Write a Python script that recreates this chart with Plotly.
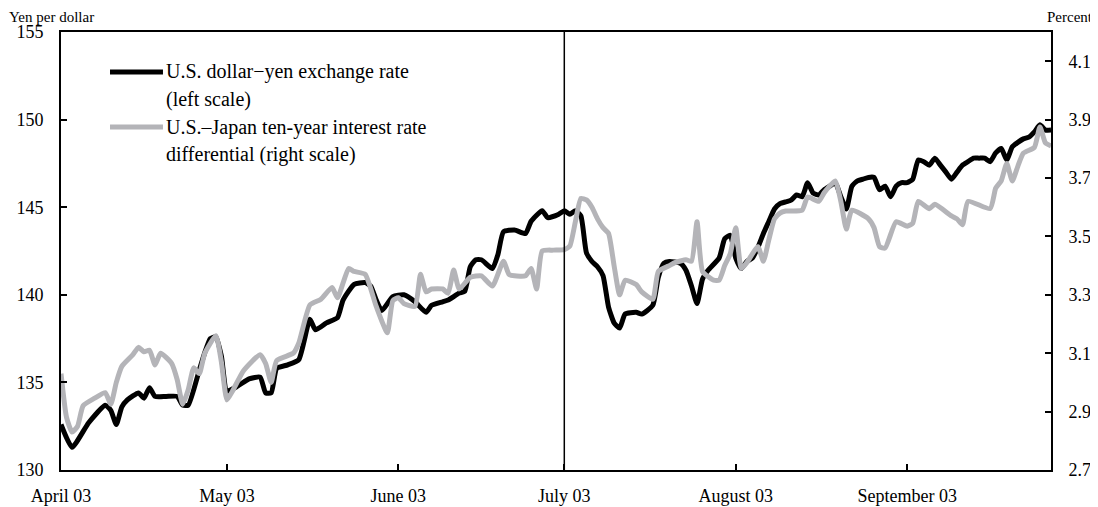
import plotly.graph_objects as go

# U.S. dollar-yen exchange rate (left scale, yen per dollar)
fx_dates = [
    "2023-04-03", "2023-04-05", "2023-04-08", "2023-04-11", "2023-04-12", "2023-04-13", "2023-04-14",
    "2023-04-15", "2023-04-17", "2023-04-18", "2023-04-19", "2023-04-20", "2023-04-22", "2023-04-24",
    "2023-04-25", "2023-04-26", "2023-04-28", "2023-04-29", "2023-04-30", "2023-05-01", "2023-05-02",
    "2023-05-03", "2023-05-05", "2023-05-07", "2023-05-09", "2023-05-10", "2023-05-11", "2023-05-12",
    "2023-05-14", "2023-05-16", "2023-05-18", "2023-05-19", "2023-05-21", "2023-05-23", "2023-05-24",
    "2023-05-26", "2023-05-28", "2023-05-29", "2023-05-30", "2023-05-31", "2023-06-02", "2023-06-04",
    "2023-06-06", "2023-06-08", "2023-06-09", "2023-06-11", "2023-06-12", "2023-06-14", "2023-06-15",
    "2023-06-16", "2023-06-17", "2023-06-18", "2023-06-20", "2023-06-21", "2023-06-22", "2023-06-24",
    "2023-06-26", "2023-06-27", "2023-06-29", "2023-06-30", "2023-07-02", "2023-07-03", "2023-07-04",
    "2023-07-05", "2023-07-06", "2023-07-07", "2023-07-08", "2023-07-09", "2023-07-10", "2023-07-11",
    "2023-07-12", "2023-07-13", "2023-07-14", "2023-07-16", "2023-07-17", "2023-07-19", "2023-07-20",
    "2023-07-21", "2023-07-22", "2023-07-24", "2023-07-25", "2023-07-26", "2023-07-27", "2023-07-28",
    "2023-07-29", "2023-07-31", "2023-08-01", "2023-08-02", "2023-08-03", "2023-08-04", "2023-08-05",
    "2023-08-06", "2023-08-07", "2023-08-08", "2023-08-09", "2023-08-10", "2023-08-11", "2023-08-12",
    "2023-08-13", "2023-08-14", "2023-08-15", "2023-08-16", "2023-08-17", "2023-08-18", "2023-08-19",
    "2023-08-20", "2023-08-21", "2023-08-22", "2023-08-23", "2023-08-24", "2023-08-25", "2023-08-26",
    "2023-08-27", "2023-08-28", "2023-08-29", "2023-08-30", "2023-08-31", "2023-09-01", "2023-09-02",
    "2023-09-03", "2023-09-04", "2023-09-05", "2023-09-06", "2023-09-07", "2023-09-08", "2023-09-09",
    "2023-09-10", "2023-09-11", "2023-09-12", "2023-09-13", "2023-09-14", "2023-09-15", "2023-09-16",
    "2023-09-17", "2023-09-18", "2023-09-19", "2023-09-20", "2023-09-21", "2023-09-22", "2023-09-23",
    "2023-09-24", "2023-09-25", "2023-09-26", "2023-09-27", "2023-09-28", "2023-09-29",
]
fx_values = [
    132.6, 131.3, 132.7, 133.7, 133.4, 132.6, 133.6,
    134.0, 134.4, 134.1, 134.7, 134.2, 134.2, 134.2,
    133.7, 133.7, 135.7, 136.7, 137.5, 137.6, 136.5,
    134.5, 134.8, 135.2, 135.3, 134.4, 134.4, 135.8,
    136.0, 136.3, 138.6, 138.0, 138.4, 138.7, 139.7,
    140.6, 140.7, 140.5, 139.7, 139.1, 139.9, 140.0,
    139.6, 139.0, 139.4, 139.6, 139.7, 140.1, 140.2,
    141.6, 142.0, 142.0, 141.5, 142.3, 143.6, 143.7,
    143.5, 144.2, 144.8, 144.4, 144.6, 144.8, 144.6,
    144.8, 144.5, 142.4, 141.9, 141.6, 141.1, 139.3,
    138.4, 138.1, 138.9, 139.0, 138.9, 139.4, 141.0,
    141.8, 141.9, 141.8, 141.4, 140.5, 139.5, 140.9,
    141.4, 142.1, 143.2, 143.4, 142.1, 141.5, 141.9,
    142.1, 142.7, 143.5, 144.2, 144.9, 145.2, 145.3,
    145.4, 145.7, 145.6, 146.4, 145.8, 145.7, 146.0,
    146.2, 146.4, 145.6, 144.9, 146.2, 146.5, 146.6,
    146.7, 146.7, 146.0, 146.2, 145.6, 146.2, 146.4,
    146.4, 146.6, 147.7, 147.6, 147.4, 147.8, 147.4,
    147.0, 146.6, 147.0, 147.4, 147.6, 147.8, 147.8,
    147.8, 147.6, 148.1, 148.35, 147.7, 148.45, 148.7,
    148.9, 149.0, 149.3, 149.7, 149.4, 149.4,
]

# U.S.-Japan ten-year interest rate differential (right scale, percent)
diff_dates = [
    "2023-04-03", "2023-04-04", "2023-04-05", "2023-04-06", "2023-04-07", "2023-04-09", "2023-04-11",
    "2023-04-12", "2023-04-13", "2023-04-14", "2023-04-16", "2023-04-17", "2023-04-18", "2023-04-19",
    "2023-04-20", "2023-04-21", "2023-04-23", "2023-04-24", "2023-04-25", "2023-04-26", "2023-04-27",
    "2023-04-28", "2023-04-29", "2023-05-01", "2023-05-02", "2023-05-03", "2023-05-04", "2023-05-06",
    "2023-05-09", "2023-05-10", "2023-05-11", "2023-05-12", "2023-05-15", "2023-05-16", "2023-05-18",
    "2023-05-20", "2023-05-22", "2023-05-23", "2023-05-25", "2023-05-26", "2023-05-28", "2023-05-30",
    "2023-06-01", "2023-06-02", "2023-06-03", "2023-06-04", "2023-06-06", "2023-06-07", "2023-06-08",
    "2023-06-09", "2023-06-11", "2023-06-12", "2023-06-13", "2023-06-14", "2023-06-16", "2023-06-18",
    "2023-06-20", "2023-06-22", "2023-06-23", "2023-06-24", "2023-06-26", "2023-06-27", "2023-06-28",
    "2023-06-29", "2023-07-01", "2023-07-03", "2023-07-04", "2023-07-05", "2023-07-06", "2023-07-07",
    "2023-07-08", "2023-07-09", "2023-07-10", "2023-07-11", "2023-07-12", "2023-07-13", "2023-07-14",
    "2023-07-16", "2023-07-17", "2023-07-19", "2023-07-20", "2023-07-22", "2023-07-23", "2023-07-25",
    "2023-07-26", "2023-07-27", "2023-07-28", "2023-07-30", "2023-07-31", "2023-08-01", "2023-08-02",
    "2023-08-03", "2023-08-04", "2023-08-05", "2023-08-07", "2023-08-08", "2023-08-09", "2023-08-10",
    "2023-08-11", "2023-08-12", "2023-08-15", "2023-08-16", "2023-08-18", "2023-08-19", "2023-08-21",
    "2023-08-22", "2023-08-23", "2023-08-24", "2023-08-27", "2023-08-28", "2023-08-29", "2023-08-30",
    "2023-09-01", "2023-09-03", "2023-09-04", "2023-09-05", "2023-09-07", "2023-09-08", "2023-09-11",
    "2023-09-12", "2023-09-13", "2023-09-14", "2023-09-18", "2023-09-19", "2023-09-20", "2023-09-21",
    "2023-09-22", "2023-09-23", "2023-09-24", "2023-09-26", "2023-09-27", "2023-09-28", "2023-09-29",
]
diff_values = [
    3.03, 2.88, 2.83, 2.85, 2.92, 2.945, 2.965,
    2.925, 3.00, 3.055, 3.095, 3.12, 3.105, 3.11,
    3.06, 3.10, 3.065, 3.01, 2.925, 2.975, 3.05,
    3.03, 3.10, 3.16, 3.07, 2.94, 2.97, 3.04,
    3.095, 3.065, 3.00, 3.075, 3.10, 3.135, 3.265,
    3.285, 3.325, 3.29, 3.39, 3.38, 3.37, 3.26,
    3.17, 3.28, 3.29, 3.27, 3.26, 3.37, 3.31,
    3.32, 3.32, 3.305, 3.385, 3.32, 3.36, 3.365,
    3.33, 3.415, 3.37, 3.365, 3.365, 3.39, 3.32,
    3.45, 3.453, 3.455, 3.467, 3.55, 3.63, 3.625,
    3.60, 3.56, 3.53, 3.51, 3.40, 3.30, 3.35,
    3.335, 3.31, 3.285, 3.38, 3.40, 3.41, 3.42,
    3.415, 3.55, 3.38, 3.35, 3.35, 3.40, 3.44,
    3.53, 3.39, 3.41, 3.465, 3.415, 3.49, 3.56,
    3.58, 3.587, 3.59, 3.635, 3.62, 3.65, 3.69,
    3.62, 3.525, 3.59, 3.56, 3.53, 3.465, 3.46,
    3.55, 3.535, 3.545, 3.62, 3.595, 3.61, 3.57,
    3.56, 3.54, 3.62, 3.595, 3.665, 3.69, 3.75,
    3.69, 3.74, 3.785, 3.805, 3.875, 3.82, 3.81,
]

# Axis ticks
x_tick_dates = ["2023-04-03", "2023-05-03", "2023-06-03", "2023-07-03", "2023-08-03", "2023-09-03"]
x_tick_labels = ["April 03", "May 03", "June 03", "July 03", "August 03", "September 03"]
x_range = ["2023-04-03", "2023-09-29"]
event_date = "2023-07-03"

fx_name = ["U.S. dollar\u2212yen exchange rate", "(left scale)"]
diff_name = ["U.S.\u2013Japan ten-year interest rate", "differential (right scale)"]

FONT = "Liberation Serif"
BLACK = "#000000"
GRAY = "#b4b4b8"

fig = go.Figure()
fig.add_trace(go.Scatter(
    x=diff_dates, y=diff_values, yaxis="y2", mode="lines",
    line=dict(color=GRAY, width=5, shape="spline", smoothing=0.5),
    name=" ".join(diff_name), showlegend=False,
))
fig.add_trace(go.Scatter(
    x=fx_dates, y=fx_values, mode="lines",
    line=dict(color=BLACK, width=5, shape="spline", smoothing=0.5),
    name=" ".join(fx_name), showlegend=False,
))

# vertical event line
fig.add_shape(type="line", xref="x", yref="paper", x0=event_date, x1=event_date, y0=0, y1=1,
              line=dict(color=BLACK, width=1.5), layer="above")

# custom legend
leg_x0, leg_x1, txt_x = 0.0495, 0.103, 0.104
rows = [(0.9087, 0.845, BLACK, fx_name), (0.783, 0.721, GRAY, diff_name)]
for y1, y2, col, names in rows:
    fig.add_shape(type="line", xref="paper", yref="paper", x0=leg_x0, x1=leg_x1, y0=y1, y1=y1,
                  line=dict(color=col, width=5))
    for yy, t in zip((y1, y2), names):
        fig.add_annotation(xref="paper", yref="paper", x=txt_x, y=yy, text=t, showarrow=False,
                           xanchor="left", yanchor="middle", font=dict(family=FONT, size=20, color=BLACK))

fig.add_annotation(xref="paper", yref="paper", x=-0.0535, y=1.0548, text="Yen per dollar", showarrow=False,
                   xanchor="left", yanchor="top", borderpad=0, font=dict(family=FONT, size=15, color=BLACK))
fig.add_annotation(xref="paper", yref="paper", x=1.043, y=1.0548, text="Percent", showarrow=False,
                   xanchor="right", yanchor="top", borderpad=0, font=dict(family=FONT, size=15, color=BLACK))

axis_common = dict(showgrid=False, zeroline=False, showline=True, linecolor=BLACK, linewidth=2,
                   ticks="inside", ticklen=6, tickwidth=2, tickcolor=BLACK, automargin=False,
                   tickfont=dict(family=FONT, size=18, color=BLACK))

# page body has an 8px margin, so the figure is shrunk by 8px and margins compensated
fig.update_layout(
    width=1090, height=499,
    margin=dict(l=53, r=47, t=24, b=37, autoexpand=False),
    paper_bgcolor="white", plot_bgcolor="white",
    font=dict(family=FONT, color=BLACK),
    xaxis=dict(**axis_common, type="date", range=x_range, tickvals=x_tick_dates, ticktext=x_tick_labels,
               mirror=True, ticklabelstandoff=8),
    yaxis=dict(**axis_common, range=[130, 155], tick0=130, dtick=5, ticklabelstandoff=12),
    yaxis2=dict(**axis_common, range=[2.7, 4.2], tick0=2.7, dtick=0.2, tickformat=".1f",
                overlaying="y", side="right", ticklabelstandoff=12),
)

fig.write_html("out.html")
